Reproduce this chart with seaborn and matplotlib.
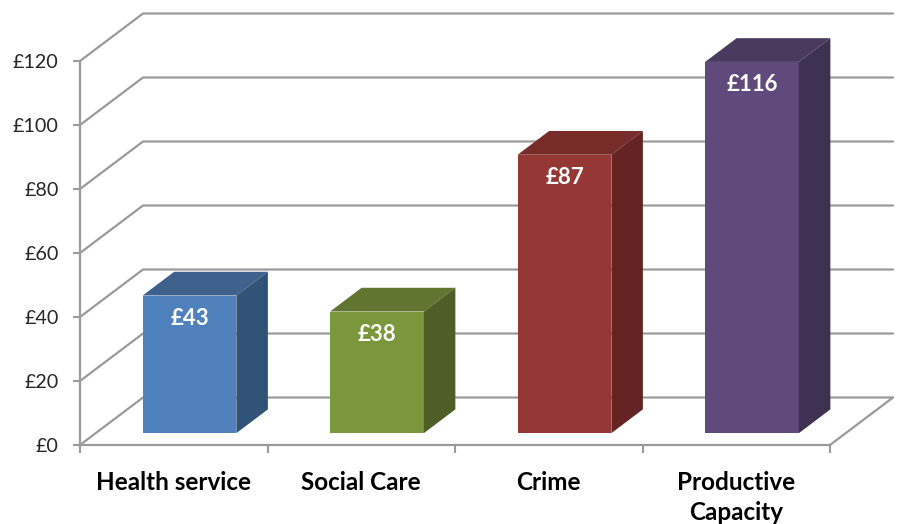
import numpy as np
import pandas as pd
import matplotlib
matplotlib.use("Agg")
import matplotlib.pyplot as plt
from matplotlib.patches import Polygon
import seaborn as sns

# --- Data ---
categories = ["Health service", "Social Care", "Crime", "Productive\nCapacity"]
values = [43, 38, 87, 116]
y_ticks = [0, 20, 40, 60, 80, 100, 120]

front_colors = ["#4F81BD", "#7B973B", "#953735", "#604A7B"]
top_colors = ["#3E618E", "#5F7530", "#772C2A", "#4A3A5E"]
side_colors = ["#325378", "#4D5F27", "#632423", "#3F3151"]
grid_color = "#9A9A9A"

sns.set_theme(style="white")
plt.rcParams["font.family"] = ["Lato", "DejaVu Sans"]

fig = plt.figure(figsize=(9, 5.24), dpi=100)
ax = fig.add_axes([80 / 900, 79 / 524, 750 / 900, 384 / 524])

df = pd.DataFrame({"category": categories, "value": values})
sns.barplot(data=df, x="category", y="value", hue="category", palette=front_colors,
            legend=False, width=0.5, saturation=1, linewidth=0, ax=ax, zorder=3)
ax.set_xlim(-0.5, 3.5)
ax.set_ylim(0, 120)
ax.set_xlabel("")
ax.set_ylabel("")

# depth of the fake 3D box, in data units
wall_dx, wall_dy = 63 / 187.5, 47.5 / 3.2
bar_dx, bar_dy = wall_dx / 2, wall_dy / 2
line_kw = dict(color=grid_color, lw=1.6, clip_on=False, solid_capstyle="round")

# back wall lines and the diagonals to the front axis
for t in y_ticks:
    ax.plot([-0.5, -0.5 + wall_dx, 3.5 + wall_dx], [t, t + wall_dy, t + wall_dy], zorder=1, **line_kw)
ax.plot([3.5, 3.5 + wall_dx], [0, wall_dy], zorder=1, **line_kw)

# front faces moved to the middle of the floor, then top and side faces
for i, patch in enumerate(ax.patches):
    patch.set_x(patch.get_x() + bar_dx / 2)
    patch.set_y(bar_dy / 2)
    patch.set_clip_on(False)
    x0, x1 = patch.get_x(), patch.get_x() + patch.get_width()
    y0, y1 = patch.get_y(), patch.get_y() + patch.get_height()
    ax.add_patch(Polygon([(x0, y1), (x1, y1), (x1 + bar_dx, y1 + bar_dy), (x0 + bar_dx, y1 + bar_dy)],
                         facecolor=top_colors[i], edgecolor="none", zorder=3, clip_on=False))
    ax.add_patch(Polygon([(x1, y0), (x1 + bar_dx, y0 + bar_dy), (x1 + bar_dx, y1 + bar_dy), (x1, y1)],
                         facecolor=side_colors[i], edgecolor="none", zorder=3, clip_on=False))
    ax.annotate(f"£{values[i]}", ((x0 + x1) / 2, y1), xytext=(0, -16.5), textcoords="offset points",
                ha="center", va="center", color="white", fontsize=16, fontweight="bold", zorder=4)

# axes
sns.despine(ax=ax, top=True, right=True)
for side in ["left", "bottom"]:
    ax.spines[side].set_color(grid_color)
    ax.spines[side].set_linewidth(1.6)
    ax.spines[side].set_zorder(2)

ax.set_yticks(y_ticks, [f"£{t}" for t in y_ticks])
ax.tick_params(axis="y", left=True, length=5, width=1.5, color=grid_color, pad=10.5,
               labelsize=14.2, labelcolor="#262626")
ax.set_xticks(np.arange(-0.5, 4), [""] * 5)
ax.set_xticks(range(4), categories, minor=True)
ax.tick_params(axis="x", which="major", bottom=True, length=6, width=1.5, color=grid_color)
ax.tick_params(axis="x", which="minor", bottom=False, pad=15, labelsize=17.5, labelcolor="black")
for label in ax.get_xticklabels(minor=True):
    label.set_fontweight("bold")
    label.set_linespacing(1.35)

fig.savefig("out.png", dpi=100)
plt.close(fig)
